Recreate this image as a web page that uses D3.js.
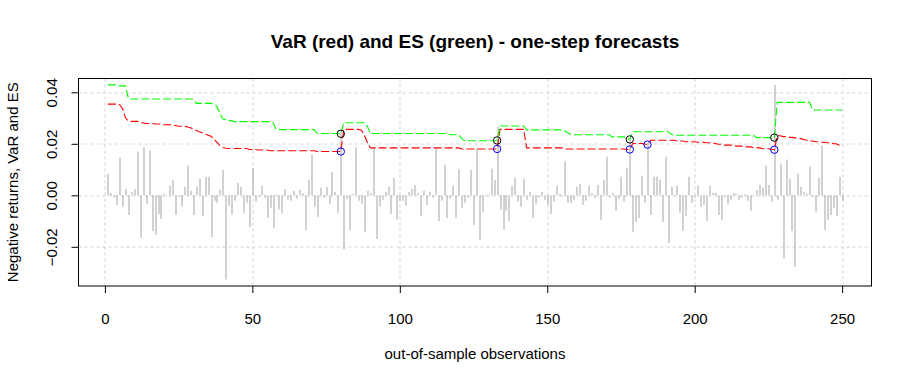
<!DOCTYPE html>
<html>
<head>
<meta charset="utf-8">
<script src="https://d3js.org/d3.v7.min.js"></script>
<style>
  body { margin: 0; background: #ffffff; }
  text { font-family: "Liberation Sans", Arial, sans-serif; }
</style>
</head>
<body>
<div id="chart-area"></div>
<script>
// negative returns, one per out-of-sample observation (1..250)
var returns = [
   0.0084, 0.0009,-0.0008,-0.0037, 0.0146,-0.0044, 0.0025,-0.0076, 0.0013, 0.0025,
   0.0170,-0.0166, 0.0186,-0.0033, 0.0174,-0.0139,-0.0154,-0.0072,-0.0092, 0.0005,
   0.0002, 0.0037, 0.0060,-0.0076,-0.0007,-0.0044, 0.0033, 0.0115, 0.0017,-0.0076,
   0.0033, 0.0064,-0.0080, 0.0072, 0.0072,-0.0162,-0.0021,-0.0029, 0.0021, 0.0099,
  -0.0327,-0.0041,-0.0074,-0.0021, 0.0048, 0.0033,-0.0068,-0.0029,-0.0123, 0.0107,
  -0.0025,-0.0005, 0.0037,-0.0009,-0.0088,-0.0048,-0.0127, 0.0003,-0.0055,-0.0070,
   0.0025,-0.0017,-0.0021, 0.0017,-0.0013, 0.0021, 0.0008,-0.0135, 0.0060, 0.0158,
  -0.0044,-0.0084, 0.0029,-0.0009, 0.0033,-0.0033, 0.0091, 0.0013,-0.0068, 0.0245,
  -0.0209,-0.0014,-0.0135, 0.0005, 0.0186,-0.0021,-0.0033,-0.0142, 0.0017, 0.0009,
   0.0186,-0.0170,-0.0044,-0.0017, 0.0013, 0.0033,-0.0072, 0.0068,-0.0095,-0.0021,
  -0.0021,-0.0040, 0.0013, 0.0025, 0.0040, 0.0009,-0.0080, 0.0017,-0.0037, 0.0013,
  -0.0009, 0.0183,-0.0100,-0.0021, 0.0119,-0.0088,-0.0013, 0.0037,-0.0088, 0.0103,
  -0.0048,-0.0029,-0.0009, 0.0099,-0.0115, 0.0183,-0.0174,-0.0064,-0.0003, 0.0002,
   0.0103, 0.0060, 0.0268,-0.0056,-0.0135,-0.0060,-0.0099, 0.0037, 0.0068,-0.0025,
  -0.0044, 0.0064,-0.0017, 0.0013,-0.0088,-0.0033,-0.0009, 0.0013,-0.0017,-0.0037,
  -0.0072,-0.0025, 0.0037, 0.0005,-0.0005, 0.0131,-0.0029,-0.0029,-0.0017, 0.0033,
   0.0044,-0.0037,-0.0021, 0.0037, 0.0009,-0.0009, 0.0040,-0.0095, 0.0060, 0.0150,
  -0.0009, 0.0009,-0.0060,-0.0013, 0.0072,-0.0025, 0.0107, 0.0222,-0.0142,-0.0103,
  -0.0088, 0.0076,-0.0029, 0.0205,-0.0076, 0.0072, 0.0072, 0.0060,-0.0103, 0.0150,
  -0.0185, 0.0033,-0.0003, 0.0037,-0.0068,-0.0139,-0.0080, 0.0072,-0.0029,-0.0009,
   0.0037,-0.0044,-0.0037,-0.0099, 0.0037, 0.0009, 0.0009,-0.0076,-0.0095,-0.0008,
  -0.0035,-0.0017, 0.0009, 0.0005,-0.0017,-0.0009, 0.0004,-0.0021,-0.0060, 0.0003,
   0.0021, 0.0040, 0.0029, 0.0115, 0.0040,-0.0025, 0.0429,-0.0017, 0.0123,-0.0244,
   0.0139, 0.0064,-0.0139,-0.0279, 0.0084, 0.0033, 0.0013, 0.0005, 0.0111,-0.0005,
  -0.0064, 0.0068, 0.0193,-0.0135,-0.0095,-0.0076,-0.0048,-0.0080, 0.0072,-0.0021
];

// one-step VaR forecasts (red)
var VaR = [
  0.0354,0.0354,0.0354,0.0354,0.0352,0.0336,0.0300,0.0288,0.0287,0.0287,
  0.0287,0.0283,0.0281,0.0279,0.0279,0.0279,0.0277,0.0277,0.0277,0.0274,
  0.0274,0.0274,0.0271,0.0271,0.0268,0.0268,0.0268,0.0265,0.0262,0.0257,
  0.0252,0.0247,0.0243,0.0238,0.0233,0.0229,0.0218,0.0206,0.0194,0.0186,
  0.0183,0.0182,0.0182,0.0182,0.0182,0.0182,0.0182,0.0182,0.0178,0.0178,
  0.0178,0.0176,0.0176,0.0176,0.0176,0.0173,0.0173,0.0173,0.0173,0.0173,
  0.0173,0.0173,0.0173,0.0173,0.0173,0.0173,0.0173,0.0173,0.0173,0.0173,
  0.0173,0.0170,0.0170,0.0170,0.0170,0.0170,0.0170,0.0170,0.0170,0.0170,
  0.0256,0.0256,0.0256,0.0256,0.0256,0.0256,0.0253,0.0233,0.0205,0.0184,
  0.0184,0.0184,0.0184,0.0184,0.0184,0.0184,0.0184,0.0184,0.0184,0.0184,
  0.0184,0.0184,0.0184,0.0184,0.0184,0.0184,0.0184,0.0184,0.0184,0.0184,
  0.0184,0.0184,0.0184,0.0184,0.0184,0.0184,0.0184,0.0184,0.0184,0.0184,
  0.0180,0.0180,0.0180,0.0180,0.0180,0.0180,0.0180,0.0180,0.0180,0.0180,
  0.0180,0.0180,0.0180,0.0256,0.0256,0.0256,0.0256,0.0256,0.0256,0.0256,
  0.0256,0.0256,0.0184,0.0184,0.0184,0.0184,0.0184,0.0184,0.0184,0.0184,
  0.0184,0.0184,0.0184,0.0184,0.0184,0.0180,0.0180,0.0180,0.0180,0.0180,
  0.0180,0.0180,0.0180,0.0180,0.0180,0.0180,0.0180,0.0180,0.0180,0.0180,
  0.0180,0.0180,0.0180,0.0180,0.0180,0.0180,0.0178,0.0178,0.0201,0.0201,
  0.0201,0.0201,0.0199,0.0197,0.0214,0.0214,0.0214,0.0214,0.0214,0.0214,
  0.0214,0.0214,0.0214,0.0211,0.0211,0.0211,0.0208,0.0208,0.0208,0.0208,
  0.0206,0.0206,0.0206,0.0204,0.0204,0.0204,0.0201,0.0198,0.0198,0.0195,
  0.0195,0.0195,0.0195,0.0191,0.0191,0.0191,0.0188,0.0188,0.0188,0.0184,
  0.0184,0.0184,0.0181,0.0181,0.0181,0.0179,0.0177,0.0231,0.0231,0.0228,
  0.0228,0.0225,0.0225,0.0223,0.0220,0.0220,0.0217,0.0214,0.0211,0.0211,
  0.0208,0.0208,0.0206,0.0206,0.0204,0.0204,0.0200,0.0200,0.0195,0.0193
];

// one-step ES forecasts (green)
var ES = [
  0.0429,0.0429,0.0429,0.0429,0.0425,0.0425,0.0425,0.0374,0.0374,0.0374,
  0.0374,0.0374,0.0374,0.0374,0.0374,0.0374,0.0374,0.0374,0.0374,0.0374,
  0.0374,0.0374,0.0374,0.0374,0.0374,0.0374,0.0374,0.0374,0.0374,0.0374,
  0.0357,0.0357,0.0357,0.0357,0.0357,0.0357,0.0354,0.0345,0.0318,0.0296,
  0.0294,0.0290,0.0290,0.0286,0.0286,0.0286,0.0286,0.0286,0.0286,0.0286,
  0.0286,0.0286,0.0286,0.0286,0.0286,0.0286,0.0283,0.0256,0.0255,0.0255,
  0.0255,0.0255,0.0255,0.0255,0.0255,0.0255,0.0255,0.0255,0.0255,0.0255,
  0.0255,0.0240,0.0240,0.0240,0.0240,0.0240,0.0240,0.0240,0.0240,0.0239,
  0.0282,0.0282,0.0282,0.0282,0.0282,0.0282,0.0282,0.0282,0.0268,0.0240,
  0.0240,0.0240,0.0240,0.0240,0.0240,0.0240,0.0240,0.0240,0.0240,0.0240,
  0.0240,0.0240,0.0240,0.0240,0.0240,0.0240,0.0240,0.0240,0.0240,0.0240,
  0.0240,0.0240,0.0240,0.0240,0.0240,0.0240,0.0235,0.0235,0.0235,0.0235,
  0.0220,0.0212,0.0212,0.0212,0.0212,0.0212,0.0212,0.0212,0.0212,0.0212,
  0.0212,0.0212,0.0213,0.0269,0.0269,0.0269,0.0269,0.0269,0.0269,0.0269,
  0.0269,0.0269,0.0254,0.0254,0.0254,0.0254,0.0254,0.0254,0.0254,0.0254,
  0.0254,0.0254,0.0254,0.0254,0.0254,0.0250,0.0243,0.0235,0.0235,0.0235,
  0.0235,0.0235,0.0235,0.0235,0.0235,0.0235,0.0235,0.0235,0.0235,0.0235,
  0.0235,0.0227,0.0227,0.0227,0.0227,0.0227,0.0220,0.0217,0.0247,0.0247,
  0.0247,0.0247,0.0247,0.0247,0.0247,0.0247,0.0247,0.0247,0.0247,0.0247,
  0.0247,0.0237,0.0233,0.0233,0.0233,0.0233,0.0233,0.0233,0.0233,0.0233,
  0.0233,0.0233,0.0233,0.0233,0.0233,0.0233,0.0233,0.0233,0.0233,0.0233,
  0.0233,0.0233,0.0233,0.0233,0.0233,0.0233,0.0233,0.0233,0.0233,0.0233,
  0.0224,0.0224,0.0224,0.0224,0.0224,0.0224,0.0224,0.0361,0.0361,0.0361,
  0.0361,0.0361,0.0361,0.0361,0.0361,0.0361,0.0361,0.0361,0.0361,0.0331,
  0.0331,0.0331,0.0331,0.0331,0.0331,0.0331,0.0331,0.0331,0.0331,0.0331
];

// observations where the return exceeds VaR (blue) and ES (black)
var varHits = [80, 133, 178, 184, 227];
var esHits = [80, 133, 178, 227];

var xTicks = [0, 50, 100, 150, 200, 250];
var yTicks = [-0.02, 0, 0.02, 0.04];

var margin = { left:78.5, right:40.5, top:78.5, bottom:98 };
var width = 912 - margin.left - margin.right;
var height = 384 - margin.top - margin.bottom;

var svg = d3.select("#chart-area").append("svg")
  .attr("width", 912)
  .attr("height", 384);

var g = svg.append("g")
  .attr("transform", "translate(" + margin.left + "," + margin.top + ")");

// R-style scales (4% padding around the data)
var x = d3.scaleLinear()
  .domain([-8.96, 259.96])
  .range([0, width]);

var y = d3.scaleLinear()
  .domain([-0.03522, 0.04536])
  .range([height, 0]);

// grid
g.selectAll(".vgrid")
  .data(xTicks)
  .enter()
  .append("line")
  .attr("x1", function(d) { return Math.round(x(d)) + 0.5; })
  .attr("x2", function(d) { return Math.round(x(d)) + 0.5; })
  .attr("y1", 0)
  .attr("y2", height)
  .attr("stroke", "#d3d3d3")
  .attr("stroke-dasharray", "3,3");

g.selectAll(".hgrid")
  .data(yTicks)
  .enter()
  .append("line")
  .attr("x1", 0)
  .attr("x2", width)
  .attr("y1", function(d) { return Math.round(y(d)) + 0.5; })
  .attr("y2", function(d) { return Math.round(y(d)) + 0.5; })
  .attr("stroke", "#d3d3d3")
  .attr("stroke-dasharray", "3,3");

// returns as vertical bars (type = "h")
g.selectAll(".ret")
  .data(returns)
  .enter()
  .append("line")
  .attr("class", "ret")
  .attr("x1", function(d, i) { return Math.round(x(i + 1)) + 0.5; })
  .attr("x2", function(d, i) { return Math.round(x(i + 1)) + 0.5; })
  .attr("y1", y(0))
  .attr("y2", function(d) { return y(d); })
  .attr("stroke", "#a4a4a4")
  .attr("stroke-width", 1);

// VaR and ES lines
var line = d3.line()
  .x(function(d, i) { return x(i + 1); })
  .y(function(d) { return y(d); });

g.append("path")
  .datum(VaR)
  .attr("d", line)
  .attr("fill", "none")
  .attr("stroke", "#ff0000")
  .attr("stroke-width", 1.1)
  .attr("stroke-dasharray", "8,3");

g.append("path")
  .datum(ES)
  .attr("d", line)
  .attr("fill", "none")
  .attr("stroke", "#00ff00")
  .attr("stroke-width", 1.1)
  .attr("stroke-dasharray", "8,3");

// exceedance markers
g.selectAll(".varHit")
  .data(varHits)
  .enter()
  .append("circle")
  .attr("cx", function(d) { return x(d); })
  .attr("cy", function(d) { return y(VaR[d - 1]); })
  .attr("r", 3.7)
  .attr("fill", "none")
  .attr("stroke", "#0000ff");

g.selectAll(".esHit")
  .data(esHits)
  .enter()
  .append("circle")
  .attr("cx", function(d) { return x(d); })
  .attr("cy", function(d) { return y(ES[d - 1]); })
  .attr("r", 3.7)
  .attr("fill", "none")
  .attr("stroke", "#000000");

// X Axis
var xAxisCall = d3.axisBottom(x)
  .tickValues(xTicks)
  .tickSize(7)
  .tickPadding(20);
var xAxis = g.append("g")
  .attr("transform", "translate(0," + height + ")")
  .call(xAxisCall);
xAxis.select(".domain").remove();
xAxis.selectAll("text")
  .attr("font-size", "15px")
  .attr("font-family", "Liberation Sans, Arial, sans-serif");

// Y Axis (labels parallel to the axis)
var yAxisCall = d3.axisLeft(y)
  .tickValues(yTicks)
  .tickSize(7)
  .tickFormat(d3.format(".2f"));
var yAxis = g.append("g")
  .call(yAxisCall);
yAxis.select(".domain").remove();
yAxis.selectAll("text")
  .attr("font-size", "15px")
  .attr("font-family", "Liberation Sans, Arial, sans-serif")
  .attr("transform", "rotate(-90)")
  .attr("text-anchor", "middle")
  .attr("x", 0)
  .attr("y", -21.5)
  .attr("dy", 0);

// frame
g.append("rect")
  .attr("x", 0)
  .attr("y", 0)
  .attr("width", width)
  .attr("height", height)
  .attr("fill", "none")
  .attr("stroke", "#000000");

// Title
svg.append("text")
  .attr("x", margin.left + width / 2)
  .attr("y", 48)
  .attr("font-size", "19px")
  .attr("font-weight", "bold")
  .attr("text-anchor", "middle")
  .text("VaR (red) and ES (green) - one-step forecasts");

// X Label
svg.append("text")
  .attr("x", margin.left + width / 2)
  .attr("y", 359)
  .attr("font-size", "15px")
  .attr("text-anchor", "middle")
  .text("out-of-sample observations");

// Y Label
svg.append("text")
  .attr("x", -(margin.top + height / 2))
  .attr("y", 18)
  .attr("font-size", "15px")
  .attr("text-anchor", "middle")
  .attr("transform", "rotate(-90)")
  .text("Negative returns, VaR and ES");
</script>
</body>
</html>
